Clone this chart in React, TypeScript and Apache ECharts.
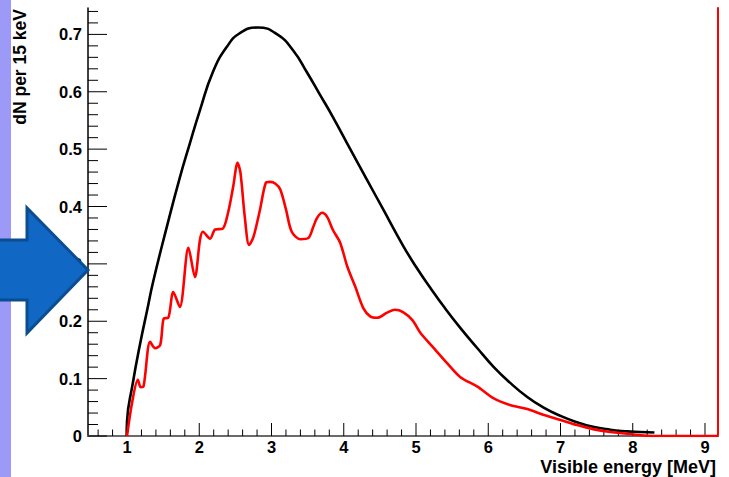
import React, { useEffect, useRef } from "react";
import * as echarts from "echarts";

// Visible energy [MeV], dN per 15 keV
const blackSpectrum: [number, number][] = [
  [0.995, 0], [1.0, 0.025], [1.08, 0.092], [1.18, 0.160], [1.28, 0.220], [1.36, 0.268],
  [1.55, 0.364], [1.73, 0.450], [1.87, 0.51], [2.01, 0.568], [2.19, 0.635], [2.38, 0.678],
  [2.56, 0.702], [2.81, 0.712], [3.08, 0.700], [3.30, 0.672], [3.49, 0.634], [3.67, 0.595],
  [3.85, 0.556], [4.09, 0.500], [4.32, 0.447], [4.55, 0.394], [4.82, 0.332], [5.0, 0.295],
  [5.2, 0.258], [5.4, 0.223], [5.61, 0.189], [5.85, 0.153], [6.07, 0.121], [6.30, 0.093],
  [6.54, 0.068], [6.76, 0.050], [7.00, 0.035], [7.23, 0.024], [7.45, 0.016], [7.69, 0.011],
  [7.92, 0.008], [8.1, 0.007], [8.3, 0.006],
];

const redSpectrum: [number, number][] = [
  [1.0, 0], [1.07, 0.058], [1.15, 0.098], [1.19, 0.085], [1.23, 0.087], [1.32, 0.164],
  [1.39, 0.153], [1.46, 0.159], [1.51, 0.205], [1.57, 0.206], [1.64, 0.251], [1.73, 0.225],
  [1.85, 0.328], [1.94, 0.277], [2.01, 0.342], [2.05, 0.356], [2.15, 0.344], [2.22, 0.36],
  [2.32, 0.361], [2.40, 0.39], [2.47, 0.435], [2.53, 0.476], [2.57, 0.459], [2.63, 0.382],
  [2.69, 0.333], [2.75, 0.347], [2.84, 0.394], [2.92, 0.441], [2.98, 0.443], [3.05, 0.440],
  [3.12, 0.430], [3.20, 0.395], [3.28, 0.356], [3.40, 0.343], [3.51, 0.345], [3.58, 0.365],
  [3.63, 0.380], [3.70, 0.389], [3.77, 0.382], [3.85, 0.359], [3.95, 0.337], [4.05, 0.295],
  [4.16, 0.260], [4.27, 0.223], [4.37, 0.208], [4.46, 0.206], [4.60, 0.215], [4.71, 0.220],
  [4.82, 0.216], [4.95, 0.202], [5.06, 0.180], [5.24, 0.154], [5.43, 0.127], [5.61, 0.103],
  [5.85, 0.086], [6.07, 0.066], [6.30, 0.054], [6.54, 0.047], [6.76, 0.037], [7.00, 0.028],
  [7.23, 0.019], [7.45, 0.012], [7.69, 0.007], [7.92, 0.004], [8.15, 0.001], [8.4, 0], [9.18, 0],
];

const xMajorTicks = [1, 2, 3, 4, 5, 6, 7, 8, 9];
const xMinorTicks = [
  0.6, 0.8, 1.2, 1.4, 1.6, 1.8, 2.2, 2.4, 2.6, 2.8, 3.2, 3.4, 3.6, 3.8, 4.2, 4.4, 4.6, 4.8,
  5.2, 5.4, 5.6, 5.8, 6.2, 6.4, 6.6, 6.8, 7.2, 7.4, 7.6, 7.8, 8.2, 8.4, 8.6, 8.8,
];
const yMajorTicks = [0, 0.1, 0.2, 0.3, 0.4, 0.5, 0.6, 0.7];
const yMinorTicks = [
  0.02, 0.04, 0.06, 0.08, 0.12, 0.14, 0.16, 0.18, 0.22, 0.24, 0.26, 0.28, 0.32, 0.34, 0.36,
  0.38, 0.42, 0.44, 0.46, 0.48, 0.52, 0.54, 0.56, 0.58, 0.62, 0.64, 0.66, 0.68, 0.72, 0.74,
];

const X_MIN = 0.46;
const X_MAX = 9.18;
const Y_MIN = 0;
const Y_MAX = 0.746;

const FONT = "'Liberation Sans', Arial, Helvetica, sans-serif";

function xTickSeries(values: number[], len: number) {
  return {
    type: "custom",
    coordinateSystem: "cartesian2d",
    xAxisIndex: 0,
    yAxisIndex: 0,
    clip: false,
    silent: true,
    z: 2,
    data: values.map((v) => [v, Y_MIN]),
    renderItem: (_p: any, api: any) => {
      const pt = api.coord([api.value(0), Y_MIN]);
      return {
        type: "line",
        shape: { x1: pt[0], y1: pt[1], x2: pt[0], y2: pt[1] - len },
        style: { stroke: "#000", lineWidth: 1 },
      };
    },
  };
}

function yTickSeries(values: number[], len: number) {
  return {
    type: "custom",
    coordinateSystem: "cartesian2d",
    xAxisIndex: 0,
    yAxisIndex: 0,
    clip: false,
    silent: true,
    z: 2,
    data: values.map((v) => [X_MIN, v]),
    renderItem: (_p: any, api: any) => {
      const pt = api.coord([X_MIN, api.value(1)]);
      return {
        type: "line",
        shape: { x1: pt[0], y1: pt[1], x2: pt[0] + len, y2: pt[1] },
        style: { stroke: "#000", lineWidth: 1 },
      };
    },
  };
}

export default function App() {
  const ref = useRef<HTMLDivElement>(null);

  useEffect(() => {
    if (!ref.current) return;
    const chart = echarts.init(ref.current, undefined, { renderer: "svg" });
    const labelStyle = {
      fontFamily: FONT,
      fontWeight: "bold" as const,
      fontSize: 16.5,
      color: "#000",
    };
    chart.setOption({
      animation: false,
      backgroundColor: "#ffffff",
      grid: { left: 88, right: 11, top: 8, bottom: 41, containLabel: false, outerBoundsMode: "none" },
      xAxis: [
        {
          type: "value",
          min: X_MIN,
          max: X_MAX,
          position: "bottom",
          splitLine: { show: false },
          axisLine: { show: true, lineStyle: { color: "#000", width: 1.5 } },
          axisTick: { show: false },
          axisLabel: {
            ...labelStyle,
            margin: 3,
            lineHeight: 16,
            customValues: xMajorTicks,
            formatter: (v: number) => String(Math.round(v)),
          },
        },
        {
          type: "value",
          min: X_MIN,
          max: X_MAX,
          position: "top",
          splitLine: { show: false },
          axisLine: { show: true, lineStyle: { color: "#6a6a6a", width: 2 } },
          axisTick: { show: false },
          axisLabel: { show: false },
        },
      ],
      yAxis: [
        {
          type: "value",
          min: Y_MIN,
          max: Y_MAX,
          position: "left",
          splitLine: { show: false },
          axisLine: { show: true, lineStyle: { color: "#000", width: 1.5 } },
          axisTick: { show: false },
          axisLabel: {
            ...labelStyle,
            margin: 6,
            customValues: yMajorTicks,
            formatter: (v: number) => (v === 0 ? "0" : v.toFixed(1)),
          },
        },
        {
          type: "value",
          min: Y_MIN,
          max: Y_MAX,
          position: "right",
          splitLine: { show: false },
          axisLine: { show: true, lineStyle: { color: "#ff0000", width: 2 } },
          axisTick: { show: false },
          axisLabel: { show: false },
        },
      ],
      series: [
        xTickSeries(xMajorTicks, 13),
        xTickSeries(xMinorTicks, 6.5),
        yTickSeries(yMajorTicks, 19),
        yTickSeries(yMinorTicks, 10),
        {
          type: "line",
          name: "black",
          xAxisIndex: 0,
          yAxisIndex: 0,
          data: blackSpectrum,
          showSymbol: false,
          smooth: 0.5,
          lineStyle: { color: "#000", width: 2.6 },
          z: 3,
        },
        {
          type: "line",
          name: "red",
          xAxisIndex: 0,
          yAxisIndex: 0,
          data: redSpectrum,
          showSymbol: false,
          smooth: 0.3,
          lineStyle: { color: "#ff0000", width: 2.6 },
          z: 4,
        },
      ],
      graphic: [
        {
          type: "rect",
          shape: { x: 0, y: 0, width: 11, height: 477 },
          style: { fill: "#9c99f7" },
          z: 50,
        },
        {
          type: "polygon",
          shape: {
            points: [
              [-5, 240], [27, 240], [27, 208], [88, 270], [27, 333], [27, 300], [-5, 300],
            ],
          },
          style: { fill: "#1167c4", stroke: "#0b4d92", lineWidth: 3, lineJoin: "miter" },
          z: 100,
        },
        {
          type: "text",
          x: 20,
          y: 9,
          rotation: Math.PI / 2,
          style: {
            text: "dN per 15 keV",
            fontFamily: FONT,
            fontWeight: "bold",
            fontSize: 17.5,
            fill: "#000",
            align: "right",
            verticalAlign: "middle",
          },
          z: 60,
        },
        {
          type: "text",
          x: 716,
          y: 467,
          style: {
            text: "Visible energy [MeV]",
            fontFamily: FONT,
            fontWeight: "bold",
            fontSize: 18,
            lineHeight: 18,
            fill: "#000",
            align: "right",
            verticalAlign: "middle",
          },
          z: 60,
        },
      ],
    });
    return () => chart.dispose();
  }, []);

  return (
    <div
      ref={ref}
      style={{ position: "absolute", left: 0, top: 0, width: 729, height: 477, background: "#fff" }}
    />
  );
}
